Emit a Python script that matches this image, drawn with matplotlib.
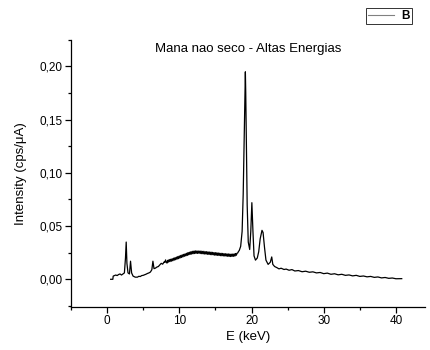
import matplotlib
matplotlib.use("Agg")
import matplotlib.pyplot as plt
from matplotlib.ticker import MultipleLocator, FuncFormatter

plt.rcParams['font.family'] = ['Liberation Sans', 'DejaVu Sans']

# spectrum: energy (keV) and intensity (cps/uA)
energy = [
    0.5, 0.8, 0.85, 1.2, 1.4, 1.6, 1.8, 2.0, 2.2, 2.4, 2.55, 2.65, 2.75, 2.9,
    3.1, 3.25, 3.4, 3.6, 3.9, 4.2, 4.4, 4.6, 4.8, 5.0, 5.2, 5.4, 5.6, 5.8,
    6.0, 6.2, 6.35, 6.5, 6.7, 6.9, 7.1, 7.3, 7.5, 7.7, 7.9,
    8.0, 8.1, 8.2, 8.3, 8.4, 8.5, 8.6, 8.7, 8.8, 8.9,
    9.0, 9.1, 9.2, 9.3, 9.4, 9.5, 9.6, 9.7, 9.8, 9.9,
    10.0, 10.1, 10.2, 10.3, 10.4, 10.5, 10.6, 10.7, 10.8, 10.9,
    11.0, 11.1, 11.2, 11.3, 11.4, 11.5, 11.6, 11.7, 11.8, 11.9,
    12.0, 12.1, 12.2, 12.3, 12.4, 12.5, 12.6, 12.7, 12.8, 12.9,
    13.0, 13.1, 13.2, 13.3, 13.4, 13.5, 13.6, 13.7, 13.8, 13.9,
    14.0, 14.1, 14.2, 14.3, 14.4, 14.5, 14.6, 14.7, 14.8, 14.9,
    15.0, 15.1, 15.2, 15.3, 15.4, 15.5, 15.6, 15.7, 15.8, 15.9,
    16.0, 16.1, 16.2, 16.3, 16.4, 16.5, 16.6, 16.7, 16.8, 16.9,
    17.0, 17.1, 17.2, 17.3, 17.4, 17.5, 17.6, 17.7, 17.8, 17.9,
    18.0, 18.1, 18.2, 18.3, 18.5, 18.7, 18.85,
    19.0, 19.1, 19.15, 19.2, 19.3, 19.4, 19.55, 19.75, 19.9, 20.05, 20.2,
    20.35, 20.55, 20.8, 21.0, 21.2, 21.45, 21.6, 21.8, 22.0, 22.3, 22.6,
    22.8, 22.95, 23.2, 23.5, 23.8, 24.1, 24.5, 24.8, 25.2, 25.6, 26.0, 26.5,
    27.0, 27.5, 28.0, 28.5, 29.0, 29.5, 30.0, 30.5, 31.0, 31.5, 32.0, 32.5,
    33.0, 33.5, 34.0, 34.5, 35.0, 35.5, 36.0, 36.5, 37.0, 37.5, 38.0, 38.5,
    39.0, 39.5, 40.0, 40.8,
]
intensity = [
    0.000, 0.000, 0.003, 0.004, 0.0035, 0.0045, 0.005, 0.004, 0.005, 0.006,
    0.020, 0.035, 0.015, 0.006, 0.005, 0.017, 0.006, 0.003, 0.002, 0.002,
    0.0028, 0.0026, 0.0035, 0.0037, 0.0042, 0.0048, 0.0055, 0.0060, 0.0068,
    0.009, 0.017, 0.010, 0.0105, 0.0115, 0.0120, 0.0135, 0.0150, 0.0142,
    0.0163,
    0.0158, 0.0182, 0.0160, 0.0152, 0.0178, 0.0162, 0.0186, 0.0166, 0.0188, 0.0170,
    0.0193, 0.0174, 0.0198, 0.0180, 0.0203, 0.0184, 0.0208, 0.0190, 0.0214, 0.0194,
    0.0219, 0.0200, 0.0224, 0.0205, 0.0230, 0.0210, 0.0234, 0.0216, 0.0239, 0.0220,
    0.0244, 0.0224, 0.0251, 0.0230, 0.0254, 0.0234, 0.0259, 0.0237, 0.0263, 0.0240,
    0.0264, 0.0242, 0.0268, 0.0244, 0.0265, 0.0243, 0.0267, 0.0245, 0.0264, 0.0242,
    0.0266, 0.0241, 0.0262, 0.0239, 0.0263, 0.0238, 0.0259, 0.0237, 0.0260, 0.0235,
    0.0257, 0.0234, 0.0256, 0.0232, 0.0255, 0.0231, 0.0253, 0.0230, 0.0251, 0.0227,
    0.0250, 0.0226, 0.0249, 0.0225, 0.0247, 0.0224, 0.0245, 0.0222, 0.0244, 0.0221,
    0.0243, 0.0220, 0.0241, 0.0219, 0.0240, 0.0218, 0.0239, 0.0216, 0.0238, 0.0215,
    0.0237, 0.0214, 0.0236, 0.0215, 0.0237, 0.0216, 0.0239, 0.0218, 0.0242, 0.0226,
    0.0245, 0.0248, 0.0262, 0.0270, 0.031, 0.045, 0.080,
    0.140, 0.178, 0.195, 0.176, 0.120, 0.070, 0.035, 0.028, 0.045, 0.072,
    0.045, 0.022, 0.018, 0.020, 0.026, 0.038, 0.046, 0.044, 0.030, 0.018,
    0.014, 0.016, 0.021, 0.014, 0.012, 0.011, 0.0098, 0.0104, 0.0092, 0.0096,
    0.0085, 0.0091, 0.0078, 0.0082, 0.0071, 0.0076, 0.0066, 0.0070, 0.0060,
    0.0064, 0.0053, 0.0058, 0.0047, 0.0052, 0.0042, 0.0047, 0.0037, 0.0041,
    0.0032, 0.0037, 0.0027, 0.0031, 0.0023, 0.0027, 0.0018, 0.0022, 0.0013,
    0.0017, 0.0009, 0.0012, 0.0005, 0.0006,
]

fig = plt.figure(figsize=(4.3, 3.5), dpi=100)
ax = fig.add_axes([0.165, 0.123, 0.823, 0.763])

line, = ax.plot(energy, intensity, color='black', lw=0.9, label='B')

ax.set_xlim(-5, 44)
ax.set_ylim(-0.026, 0.225)
ax.xaxis.set_major_locator(MultipleLocator(10))
ax.xaxis.set_minor_locator(MultipleLocator(5))
ax.yaxis.set_major_locator(MultipleLocator(0.05))
ax.yaxis.set_minor_locator(MultipleLocator(0.025))
ax.yaxis.set_major_formatter(FuncFormatter(lambda v, p: f"{v:.2f}".replace('.', ',')))

for s in ['top', 'right']:
    ax.spines[s].set_visible(False)
for s in ['left', 'bottom']:
    ax.spines[s].set_linewidth(0.9)
ax.tick_params(which='major', direction='out', length=4, width=0.9, labelsize=8.5, pad=2)
ax.tick_params(which='minor', direction='out', length=2.5, width=0.9)

ax.set_xlabel('E (keV)', fontsize=9.5, labelpad=3)
ax.set_ylabel('Intensity (cps/\u03bcA)', fontsize=9.5, labelpad=9)
ax.text(0.5, 0.955, 'Mana nao seco - Altas Energias', transform=ax.transAxes,
        ha='center', va='baseline', fontsize=9.5)

leg = fig.legend(handles=[line], loc='upper right', bbox_to_anchor=(0.972, 0.995),
                 fontsize=8.5, frameon=True, fancybox=False, handlelength=2.2,
                 borderpad=0.2, handletextpad=0.6)
leg.get_frame().set_edgecolor('black')
leg.get_frame().set_linewidth(0.7)
leg.get_lines()[0].set_color('gray')
leg.get_lines()[0].set_linewidth(0.8)
leg.get_texts()[0].set_fontweight('bold')

fig.savefig('out.png', dpi=100)
